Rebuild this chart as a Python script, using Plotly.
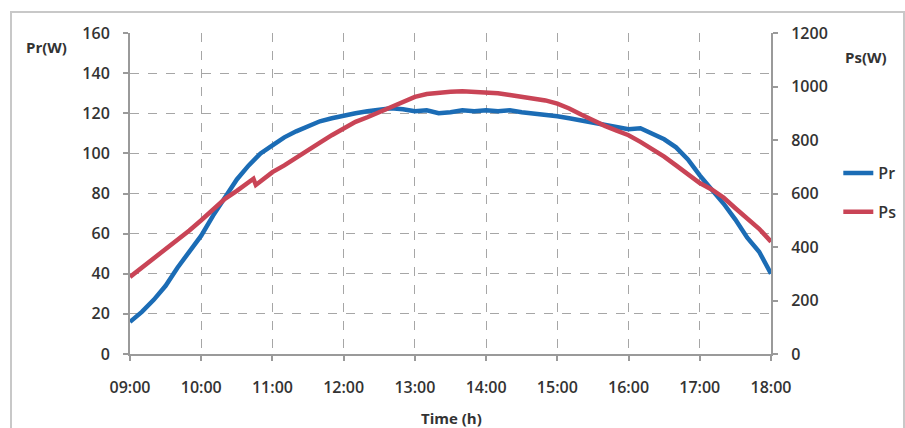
import plotly.graph_objects as go

# ---- data ----
times = ["09:00","09:10","09:20","09:30","09:40","09:50","10:00","10:10","10:20","10:30",
         "10:40","10:50","11:00","11:10","11:20","11:30","11:40","11:50","12:00","12:10",
         "12:20","12:30","12:40","12:50","13:00","13:10","13:20","13:30","13:40","13:50",
         "14:00","14:10","14:20","14:30","14:40","14:50","15:00","15:10","15:20","15:30",
         "15:40","15:50","16:00","16:10","16:20","16:30","16:40","16:50","17:00","17:10",
         "17:20","17:30","17:40","17:50","18:00"]
pr_w = [16, 21, 27, 34, 43, 51, 59, 69, 78, 87,
        94, 100, 104, 108, 111, 113.5, 116, 117.5, 119, 120,
        121, 122, 122.5, 122, 121, 121.5, 120, 120.5, 121.5, 121,
        121.5, 121, 121.5, 120.5, 120, 119.5, 118.5, 117.5, 116.5, 115,
        114, 113, 112, 112.5, 110, 107, 103, 97, 89, 82,
        75, 67, 58, 51, 40]

ps_times = ["09:00","09:10","09:20","09:30","09:40","09:50","10:00","10:10","10:20","10:30",
            "10:40","10:44","10:46","10:50","11:00","11:10","11:20","11:30","11:40","11:50",
            "12:00","12:10","12:20","12:30","12:40","12:50","13:00","13:10","13:20","13:30",
            "13:40","13:50","14:00","14:10","14:20","14:30","14:40","14:50","15:00","15:10",
            "15:20","15:30","15:40","15:50","16:00","16:10","16:20","16:30","16:40","16:50",
            "17:00","17:10","17:20","17:30","17:40","17:50","18:00"]
ps_w = [288, 322, 355, 389, 425, 462, 500, 540, 580, 610,
        640, 655, 632, 645, 680, 705, 732, 760, 790, 818,
        845, 868, 885, 905, 925, 945, 961, 972, 978, 980,
        982, 980, 979, 975, 968, 962, 958, 948, 936, 918,
        895, 872, 853, 835, 818, 793, 765, 738, 705, 670,
        639, 615, 585, 545, 508, 468, 420]

hour_ticks = [9, 10, 11, 12, 13, 14, 15, 16, 17, 18]
hour_labels = ["09:00","10:00","11:00","12:00","13:00","14:00","15:00","16:00","17:00","18:00"]
pr_ticks = [0, 20, 40, 60, 80, 100, 120, 140, 160]
ps_ticks = [0, 200, 400, 600, 800, 1000, 1200]

def to_hours(t):
    h, m = t.split(":")
    return int(h) + int(m) / 60.0

x_pr = [to_hours(t) for t in times]
x_ps = [to_hours(t) for t in ps_times]

BLUE = "#1b6cb5"
RED = "#c94456"
GRID = "#a6a6a6"
AXIS = "#9a9a9a"
TXT = "#333333"
FONT = "Open Sans"

fig = go.Figure()
fig.add_trace(go.Scatter(x=x_pr, y=pr_w, name="Pr", mode="lines",
                         line=dict(color=BLUE, width=4.5), legendgroup="a"))
fig.add_trace(go.Scatter(x=x_ps, y=ps_w, name="Ps", mode="lines", yaxis="y2",
                         line=dict(color=RED, width=4.5), legendgroup="b"))

tickfont = dict(family=FONT, size=16, color=TXT, weight=600)

fig.update_layout(
    width=905, height=428,
    margin=dict(l=130, r=134, t=33, b=74, autoexpand=False),
    paper_bgcolor="white", plot_bgcolor="white",
    showlegend=True,
    legend=dict(x=1.105, y=0.503, xanchor="left", yanchor="middle",
                font=dict(family=FONT, size=16, color=TXT, weight=600),
                tracegroupgap=15, bgcolor="rgba(0,0,0,0)", itemwidth=30),
    xaxis=dict(range=[9, 18], tickmode="array", tickvals=hour_ticks, ticktext=hour_labels,
               showgrid=True, gridcolor=GRID, griddash="dash", gridwidth=1,
               showline=True, linecolor=AXIS, linewidth=2,
               ticks="outside", ticklen=5, tickcolor=AXIS, tickwidth=1.5,
               tickfont=tickfont, ticklabelstandoff=13, zeroline=False),
    yaxis=dict(range=[0, 160], tickmode="array", tickvals=pr_ticks,
               showgrid=True, gridcolor=GRID, griddash="dash", gridwidth=1,
               showline=True, linecolor=AXIS, linewidth=2,
               ticks="outside", ticklen=5, tickcolor=AXIS, tickwidth=1.5,
               tickfont=tickfont, ticklabelstandoff=10, zeroline=False),
    yaxis2=dict(range=[0, 1200], tickmode="array", tickvals=ps_ticks, overlaying="y",
                side="right", showgrid=False,
                showline=True, linecolor=AXIS, linewidth=2,
                ticks="outside", ticklen=5, tickcolor=AXIS, tickwidth=1.5,
                tickfont=tickfont, ticklabelstandoff=10, zeroline=False),
    annotations=[
        dict(text="Pr(W)", xref="paper", yref="paper", x=-0.131, y=0.956,
             xanchor="center", yanchor="middle", showarrow=False,
             font=dict(family=FONT, size=15, color=TXT, weight=700)),
        dict(text="Ps(W)", xref="paper", yref="paper", x=1.148, y=0.925,
             xanchor="center", yanchor="middle", showarrow=False,
             font=dict(family=FONT, size=15, color=TXT, weight=700)),
        dict(text="Time (h)", xref="paper", yref="paper", x=0.502, y=-0.2,
             xanchor="center", yanchor="middle", showarrow=False,
             font=dict(family=FONT, size=15, color=TXT, weight=700)),
    ],
    shapes=[
        dict(type="rect", xref="paper", yref="paper",
             x0=(11 - 130) / 641, x1=(904 - 130) / 641,
             y0=(354 - 440) / 321, y1=(354 - 12) / 321,
             line=dict(color="#c8c8c8", width=2), fillcolor="rgba(0,0,0,0)", layer="below"),
    ],
)

fig.write_html("out.html")
